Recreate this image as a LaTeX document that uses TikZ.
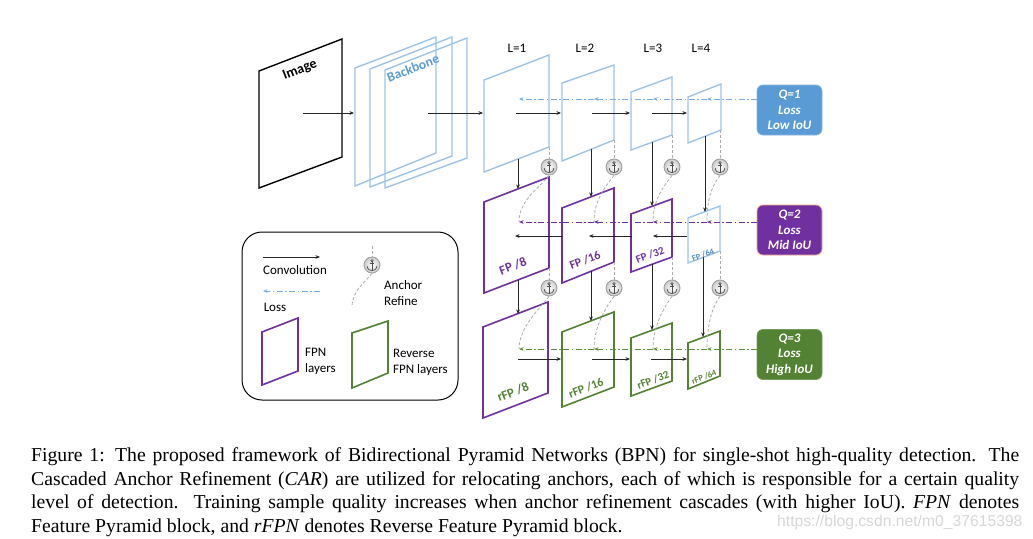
\documentclass[tikz,border=0pt]{standalone}
\usepackage{fontspec}
\setmainfont{Liberation Serif}
\newfontfamily\carl{Carlito}
\newfontfamily\lsans{Liberation Sans}
\usetikzlibrary{arrows.meta,calc}
\definecolor{bluefr}{RGB}{157,195,230}
\definecolor{blueQ}{RGB}{91,155,213}
\definecolor{bluels}{RGB}{125,172,222}
\definecolor{purp}{RGB}{112,48,160}
\definecolor{grn}{RGB}{84,130,53}
\definecolor{grnls}{RGB}{98,145,62}
\definecolor{salmon}{RGB}{240,170,140}
\definecolor{wmark}{RGB}{215,215,215}
\tikzset{
  anchorsym/.pic={
    \draw[black!70, line width=0.6pt] (0,-4.3) circle (1.2pt);
    \draw[black!70, line width=0.7pt] (0,-3.1) -- (0,5.3);
    \draw[black!70, line width=0.7pt] (-2.4,-1.6) -- (2.4,-1.6);
    \draw[black!70, line width=0.7pt] (-4.8,1.2) .. controls (-4.4,4.6) and (-2,5.6) .. (0,5.6) .. controls (2,5.6) and (4.4,4.6) .. (4.8,1.2);
  }
}
\begin{document}
\begin{tikzpicture}[x=1pt,y=-1pt,
  conv/.style={-{Stealth[length=4.5pt,width=3.6pt]}, line width=0.6pt, black!85},
  lossline/.style={-{Stealth[length=4.5pt,width=3.6pt]}, line width=1pt, dash pattern=on 6pt off 2.5pt on 1.5pt off 2.5pt},
  refine/.style={gray!65, line width=0.8pt, dash pattern=on 3pt off 2pt},
  bfr/.style={draw=bluefr, line width=1.4pt},
  pfr/.style={draw=purp, line width=1.6pt},
  gfr/.style={draw=grn, line width=1.6pt},
  qbox/.style={rounded corners=6pt, minimum width=65pt, minimum height=50pt, align=center, text=white, font=\carl\bfseries\itshape\fontsize{13}{15.5}\selectfont, inner sep=0pt, line width=0.8pt},
  anch/.style={circle, minimum size=16pt, inner sep=0pt, draw=gray!75, line width=0.9pt, inner color=white, outer color=gray!40},
  lvl/.style={font=\carl\fontsize{13}{15}\selectfont},
  leg/.style={font=\carl\fontsize{13}{16}\selectfont, align=left, anchor=west, inner sep=0pt},
  flab/.style={font=\carl\bfseries, rotate=21, inner sep=0pt},
  capline/.style={anchor=base west, inner sep=0pt, font=\fontsize{19.7}{23.5}\selectfont},
]
\useasboundingbox (0,0) rectangle (1033,538);

% ---------------- image and backbone
\draw[black, line width=1.4pt] (259,71) -- (342,39) -- (342,157) -- (259,188) -- cycle;
\node[font=\carl\bfseries\fontsize{14}{16}\selectfont, rotate=21, inner sep=0pt] (imgtxt) at (300,70) {Image};
\draw[bfr] (355,68) -- (436,37) -- (436,153) -- (355,186) -- cycle;
\draw[bfr] (370,69) -- (452,37) -- (452,156) -- (370,187) -- cycle;
\draw[bfr] (385,70) -- (467,38) -- (467,158) -- (385,188) -- cycle;
\node[font=\carl\bfseries\fontsize{13.5}{16}\selectfont, rotate=21, text=blueQ, inner sep=0pt] (bbtxt) at (413,68) {Backbone};

% ---------------- level labels
\node[lvl] (l1) at (517,48) {L=1};
\node[lvl] (l2) at (585,48) {L=2};
\node[lvl] (l3) at (653,48) {L=3};
\node[lvl] (l4) at (701,48) {L=4};

% ---------------- top row frames
\draw[bfr] (484,80) -- (549,55) -- (549,147) -- (484,172) -- cycle;
\draw[bfr] (562,83) -- (614,65) -- (614,140) -- (562,161) -- cycle;
\draw[bfr] (631,92) -- (672,77) -- (672,135) -- (631,150) -- cycle;
\draw[bfr] (688,97) -- (721,84) -- (721,130) -- (688,143) -- cycle;

% ---------------- middle row frames
\draw[pfr] (484,202) -- (549,177) -- (549,268) -- (484,293) -- cycle;
\draw[pfr] (562,208) -- (614,188) -- (614,262) -- (562,283) -- cycle;
\draw[pfr] (631,214) -- (672,199) -- (672,257) -- (631,272) -- cycle;
\draw[bfr] (688,218) -- (720,206) -- (720,251) -- (688,263) -- cycle;

% ---------------- bottom row frames
\draw[pfr] (483,327) -- (548,302) -- (548,393) -- (483,418) -- cycle;
\draw[gfr] (562,332) -- (614,312) -- (614,387) -- (562,407) -- cycle;
\draw[gfr] (631,338) -- (672,323) -- (672,381) -- (631,396) -- cycle;
\draw[gfr] (688,343) -- (720,331) -- (720,376) -- (688,389) -- cycle;

% ---------------- frame labels
\node[flab, text=purp, font=\carl\bfseries\fontsize{13}{15}\selectfont] (fp8) at (513,266) {FP /8};
\node[flab, text=purp, font=\carl\bfseries\fontsize{12}{14}\selectfont] (fp16) at (585,260) {FP /16};
\node[flab, text=purp, font=\carl\bfseries\fontsize{11}{13}\selectfont] (fp32) at (650,255) {FP /32};
\node[flab, text=blueQ!90!black, font=\carl\bfseries\fontsize{8.5}{10}\selectfont] (fp64) at (703,255) {FP /64};
\node[flab, text=grn, font=\carl\bfseries\fontsize{13}{15}\selectfont] (rfp8) at (513,392) {rFP /8};
\node[flab, text=grn, font=\carl\bfseries\fontsize{12}{14}\selectfont] (rfp16) at (586,388) {rFP /16};
\node[flab, text=grn, font=\carl\bfseries\fontsize{11}{13}\selectfont] (rfp32) at (653,380) {rFP /32};
\node[flab, text=grn, font=\carl\bfseries\fontsize{8.5}{10}\selectfont] (rfp64) at (704,377) {rFP /64};

% ---------------- Q boxes
\node[qbox, fill=blueQ, draw=blueQ!75!white] (q1) at (789.5,110) {Q=1\\Loss\\Low IoU};
\node[qbox, fill=purp, draw=salmon] (q2) at (789.5,230) {Q=2\\Loss\\Mid IoU};
\node[qbox, fill=grn, draw=grn!80!white] (q3) at (789.5,354.5) {Q=3\\Loss\\High IoU};

% ---------------- coordinates
\foreach \r/\y in {t/99, m/222, b/349}{
  \coordinate (\r e) at (757,\y);
  \coordinate (\r 1) at (519,\y);
  \coordinate (\r 2) at (594,\y);
  \coordinate (\r 3) at (653,\y);
  \coordinate (\r 4) at (707,\y);
}

% ---------------- anchors
\foreach \n/\x/\y in {a1/549/167, a2/614/167, a3/672/167, a4/720/167,
                      c1/549/288, c2/614/288, c3/672/288, c4/720/288}{
  \node[anch] (\n) at (\x,\y) {};
  \pic at (\n) {anchorsym};
}

% dashed verticals into anchors
\coordinate (d1) at (549,147); \coordinate (d2) at (614,140);
\coordinate (d3) at (672,135); \coordinate (d4) at (720,130);
\coordinate (e1) at (549,268); \coordinate (e2) at (614,262);
\coordinate (e3) at (672,257); \coordinate (e4) at (720,251);
\foreach \i in {1,2,3,4}{
  \draw[refine] (d\i) -- (a\i.north);
  \draw[refine] (e\i) -- (c\i.north);
  \draw[refine] (a\i.south) .. controls +(-9,12) and +(0,-22) .. (m\i);
  \draw[refine] (c\i.south) .. controls +(-9,12) and +(0,-22) .. (b\i);
}

% ---------------- loss lines
\draw[lossline, bluels] (te) -- (t4);
\draw[lossline, bluels] (t4) -- (t3);
\draw[lossline, bluels] (t3) -- (t2);
\draw[lossline, bluels] (t2) -- (t1);
\draw[lossline, purp] (me) -- (m4);
\draw[lossline, purp] (m4) -- (m3);
\draw[lossline, purp] (m3) -- (m2);
\draw[lossline, purp] (m2) -- (m1);
\draw[lossline, grnls] (be) -- (b4);
\draw[lossline, grnls] (b4) -- (b3);
\draw[lossline, grnls] (b3) -- (b2);
\draw[lossline, grnls] (b2) -- (b1);

% ---------------- convolution arrows: top row
\coordinate (h0s) at (303,113); \coordinate (h0e) at (354,113);
\coordinate (h1s) at (428,113); \coordinate (h1e) at (483,113);
\coordinate (h2s) at (516,113); \coordinate (h2e) at (561,113);
\coordinate (h3s) at (592,113); \coordinate (h3e) at (630,113);
\coordinate (h4s) at (652,113); \coordinate (h4e) at (687,113);
\foreach \i in {0,...,4}{ \draw[conv] (h\i s) -- (h\i e); }
% middle row (leftwards)
\coordinate (g1s) at (687,236); \coordinate (g1e) at (653,236);
\coordinate (g2s) at (632,236); \coordinate (g2e) at (589,236);
\coordinate (g3s) at (563,236); \coordinate (g3e) at (515,236);
% bottom row (rightwards)
\coordinate (k1s) at (518,359); \coordinate (k1e) at (561,359);
\coordinate (k2s) at (592,359); \coordinate (k2e) at (630,359);
\coordinate (k3s) at (651,359); \coordinate (k3e) at (687,359);
\foreach \i in {1,2,3}{ \draw[conv] (g\i s) -- (g\i e); \draw[conv] (k\i s) -- (k\i e); }
% verticals
\coordinate (v1s) at (518,159); \coordinate (v1e) at (518,189);
\coordinate (v2s) at (591,149); \coordinate (v2e) at (591,197);
\coordinate (v3s) at (652,142); \coordinate (v3e) at (652,206);
\coordinate (v4s) at (705,136); \coordinate (v4e) at (705,212);
\coordinate (w1s) at (518,280); \coordinate (w1e) at (518,314);
\coordinate (w2s) at (591,271); \coordinate (w2e) at (591,321);
\coordinate (w3s) at (652,264); \coordinate (w3e) at (652,330);
\coordinate (w4s) at (703,257); \coordinate (w4e) at (703,337);
\foreach \i in {1,2,3,4}{ \draw[conv] (v\i s) -- (v\i e); \draw[conv] (w\i s) -- (w\i e); }

% ---------------- legend
\draw[black, line width=1pt, rounded corners=20pt] (242,232) rectangle (458,400);
\coordinate (lc1) at (263,257); \coordinate (lc2) at (320,257);
\draw[conv] (lc1) -- (lc2);
\node[font=\carl\fontsize{13}{15}\selectfont] (lconv) at (295,270) {Convolution};
\coordinate (ll1) at (320,291); \coordinate (ll2) at (263,291);
\draw[lossline, bluels] (ll1) -- (ll2);
\node[font=\carl\fontsize{13}{15}\selectfont] (lloss) at (275,307) {Loss};
\node[anch] (la) at (372,265) {};
\pic at (la) {anchorsym};
\coordinate (lat) at (372,246); \coordinate (lab) at (352,307);
\draw[refine] (lat) -- (la.north);
\draw[refine] (la.south) .. controls +(-8,10) and +(0,-16) .. (lab);
\node[leg] (lanch) at (384,293) {Anchor\\Refine};
\draw[pfr] (262,332) -- (298,318) -- (298,371) -- (262,385) -- cycle;
\node[leg] (lfpn) at (305,361) {FPN\\layers};
\draw[gfr] (352,333) -- (388,321) -- (388,373) -- (352,388) -- cycle;
\node[leg] (lrfpn) at (393,362) {Reverse\\FPN layers};

% ---------------- caption
\node[capline] (cap1) at (31,461) {\makebox[988pt][s]{Figure 1: The proposed framework of Bidirectional Pyramid Networks (BPN) for single-shot high-quality detection. The}};
\node[capline] (cap2) at (31,485) {\makebox[988pt][s]{Cascaded Anchor Refinement (\textit{CAR}) are utilized for relocating anchors, each of which is responsible for a certain quality}};
\node[capline] (cap3) at (31,508.5) {\makebox[988pt][s]{level of detection. Training sample quality increases when anchor refinement cascades (with higher IoU). \textit{FPN} denotes}};
\node[capline, text=wmark, font=\lsans\fontsize{15.7}{18}\selectfont] (wm) at (777,526) {https://blog.csdn.net/m0\_37615398};
\node[capline] (cap4) at (31,532) {Feature Pyramid block, and \textit{rFPN} denotes Reverse Feature Pyramid block.};
\end{tikzpicture}
\end{document}
